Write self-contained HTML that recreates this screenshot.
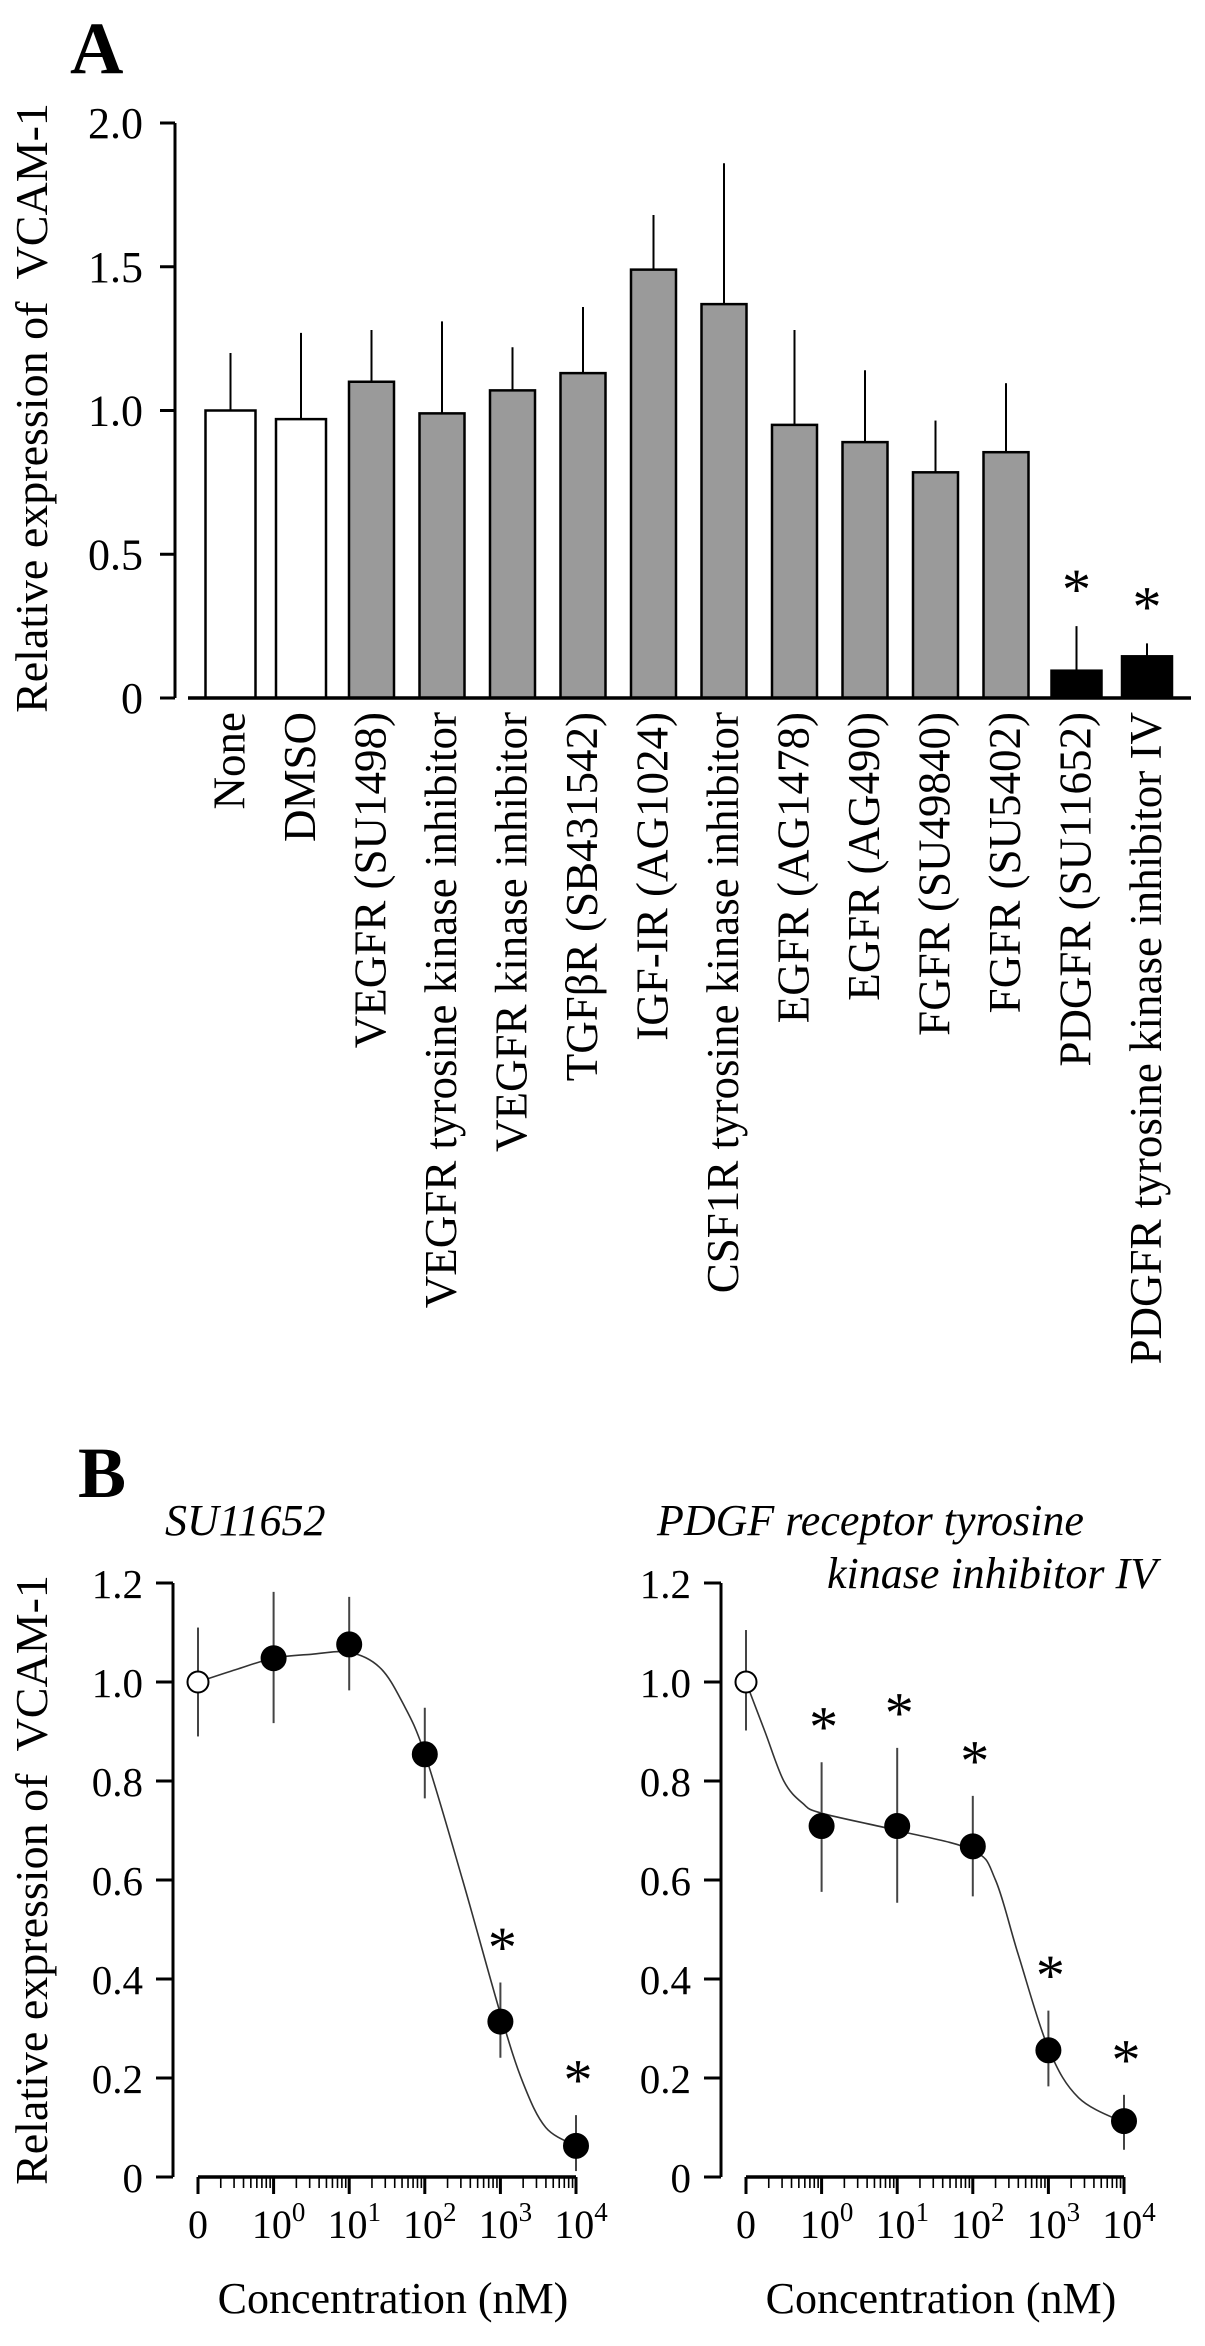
<!DOCTYPE html>
<html><head><meta charset="utf-8"><style>
html,body{margin:0;padding:0;background:#fff;}
svg{display:block;font-family:"Liberation Serif",serif;}
</style></head><body>
<svg id="fig" width="1205" height="2346" viewBox="0 0 1205 2346" xmlns="http://www.w3.org/2000/svg">
<rect width="1205" height="2346" fill="#fff"/>
<text x="70" y="73" font-size="74" font-weight="bold">A</text>
<text transform="translate(47,408) rotate(-90)" text-anchor="middle" font-size="46" xml:space="preserve">Relative expression of  VCAM-1</text>
<g id="pa"></g>
<text x="78" y="1497" font-size="72" font-weight="bold">B</text>
<text transform="translate(47,1880) rotate(-90)" text-anchor="middle" font-size="46" xml:space="preserve">Relative expression of  VCAM-1</text>
<text x="165" y="1535" font-size="44" font-style="italic">SU11652</text>
<text x="657" y="1535" font-size="44" font-style="italic">PDGF receptor tyrosine</text>
<text x="1157" y="1588" font-size="44" font-style="italic" text-anchor="end">kinase inhibitor IV</text>
<g id="pbl"></g>
<g id="pbr"></g>
</svg>
<script>
// ---- Panel A data ----
const catsA = ["None","DMSO","VEGFR (SU1498)","VEGFR tyrosine kinase inhibitor","VEGFR kinase inhibitor","TGFβR (SB431542)","IGF-IR (AG1024)","CSF1R tyrosine kinase inhibitor","EGFR (AG1478)","EGFR (AG490)","FGFR (SU49840)","FGFR (SU5402)","PDGFR (SU11652)","PDGFR tyrosine kinase inhibitor IV"];
const valsA = [1.0,0.97,1.10,0.99,1.07,1.13,1.49,1.37,0.95,0.89,0.785,0.855,0.095,0.145];
const errA = [0.20,0.30,0.18,0.32,0.15,0.23,0.19,0.49,0.33,0.25,0.18,0.24,0.155,0.045];
const groupA = ["w","w","g","g","g","g","g","g","g","g","g","g","b","b"];
const sigA = [0,0,0,0,0,0,0,0,0,0,0,0,1,1];
const ticksA = [0,0.5,1.0,1.5,2.0];
const tickLabelsA = ["0","0.5","1.0","1.5","2.0"];

// ---- Panel B data ----
const concLabels = ["0","10","10","10","10","10"];
const concExp = ["","0","1","2","3","4"];
const ticksB = [0,0.2,0.4,0.6,0.8,1.0,1.2];
const tickLabelsB = ["0","0.2","0.4","0.6","0.8","1.0","1.2"];
const leftVals = [1.0,1.048,1.076,0.854,0.314,0.063];
const leftErrHi = [1.11,1.182,1.172,0.948,0.393,0.125];
const leftErrLo = [0.89,0.917,0.983,0.765,0.241,0.012];
const leftSig = [0,0,0,0,1,1];
const leftCurveX = [0,0.5,1,1.5,2,2.4,2.7,3,3.5,4,4.3,4.6,5];
const leftCurveY = [1.0,1.025,1.048,1.056,1.06,1.03,0.96,0.855,0.6,0.33,0.19,0.1,0.063];
const rightVals = [1.0,0.709,0.709,0.668,0.256,0.113];
const rightErrHi = [1.105,0.838,0.867,0.77,0.336,0.166];
const rightErrLo = [0.902,0.576,0.554,0.567,0.183,0.055];
const rightSig = [0,1,1,1,1,1];
const rightCurveX = [0,0.25,0.5,0.75,1,2,3,3.3,3.6,4,4.4,5];
const rightCurveY = [1.0,0.9,0.8,0.755,0.735,0.70,0.66,0.6,0.45,0.26,0.16,0.11];

const NS="http://www.w3.org/2000/svg";
function mk(parent,tag,attrs){const e=document.createElementNS(NS,tag);for(const k in attrs)e.setAttribute(k,attrs[k]);parent.appendChild(e);return e;}

// ---- Panel A ----
(function(){
  const g=document.getElementById('pa');
  const axX=175, y0=698, y2=123;
  const yA=v=>y0-(v/2)*(y0-y2);
  const xA=i=>230.5+i*70.5;
  let e=mk(g,'line',{x1:axX,y1:y2,x2:axX,y2:y0,stroke:'#000','stroke-width':3});
  
  ticksA.forEach((t,i)=>{
    let l=mk(g,'line',{x1:axX-15,y1:yA(t),x2:axX,y2:yA(t),stroke:'#000','stroke-width':3});
    
    let tx=mk(g,'text',{x:143,y:yA(t)+15,'font-size':44,'text-anchor':'end'});tx.textContent=tickLabelsA[i];
    
  });
  catsA.forEach((c,i)=>{
    const fill=groupA[i]==='w'?'#fff':groupA[i]==='g'?'#9a9a9a':'#000';
    const w=groupA[i]==='g'?45:50;
    const cx=xA(i), top=yA(valsA[i]);
    let eb=mk(g,'line',{x1:cx,y1:yA(valsA[i]+errA[i]),x2:cx,y2:top,stroke:'#000','stroke-width':2});
    
    let r=mk(g,'rect',{x:cx-w/2,y:top,width:w,height:y0-top,fill:fill,stroke:'#000','stroke-width':2.5});
    
    let tx=mk(g,'text',{transform:`translate(${cx+14},712) rotate(-90)`,'font-size':45,'text-anchor':'end'});tx.textContent=c;
    
    if(sigA[i]){let s=mk(g,'text',{x:cx,y:yA(valsA[i]+errA[i]+0.16)+29,'font-size':58,'text-anchor':'middle'});s.textContent='*';
      }
  });
  let b=mk(g,'line',{x1:188,y1:y0,x2:1191,y2:y0,stroke:'#000','stroke-width':3.5});
  
})();

// ---- Panel B ----
function catmull(pts){let d=`M${pts[0][0]},${pts[0][1]}`;
  for(let i=0;i<pts.length-1;i++){const p0=pts[Math.max(i-1,0)],p1=pts[i],p2=pts[i+1],p3=pts[Math.min(i+2,pts.length-1)];
    const c1=[p1[0]+(p2[0]-p0[0])/6,p1[1]+(p2[1]-p0[1])/6],c2=[p2[0]-(p3[0]-p1[0])/6,p2[1]-(p3[1]-p1[1])/6];
    d+=` C${c1[0]},${c1[1]} ${c2[0]},${c2[1]} ${p2[0]},${p2[1]}`;}
  return d;}
function drawB(id,off,vals,hi,lo,sig,cx,cy){
  const g=document.getElementById(id);
  const axX=173+off, yb0=2177, ytop=1583;
  const yB=v=>yb0-(v/1.2)*(yb0-ytop);
  const xB=p=>198+off+p*75.6;
  let e=mk(g,'line',{x1:axX,y1:ytop,x2:axX,y2:yb0,stroke:'#000','stroke-width':3});
  
  ticksB.forEach((t,i)=>{
    let l=mk(g,'line',{x1:axX-17,y1:yB(t),x2:axX,y2:yB(t),stroke:'#000','stroke-width':3});
    
    let tx=mk(g,'text',{x:143+off,y:yB(t)+15,'font-size':41,'text-anchor':'end'});tx.textContent=tickLabelsB[i];
    
  });
  let xa=mk(g,'line',{x1:xB(0),y1:yb0,x2:xB(5),y2:yb0,stroke:'#000','stroke-width':3.5});
  
  for(let k=0;k<=5;k++){
    let l=mk(g,'line',{x1:xB(k),y1:yb0,x2:xB(k),y2:yb0+17,stroke:'#000','stroke-width':3});
    
    if(k<5)for(let m=2;m<=9;m++){let mm=mk(g,'line',{x1:xB(k+Math.log10(m)),y1:yb0,x2:xB(k+Math.log10(m)),y2:yb0+11,stroke:'#000','stroke-width':1.6});
      }
    let tx=mk(g,'text',{x:xB(k)+(k?5:0),y:2238,'font-size':40,'text-anchor':'middle'});
    
    tx.appendChild(document.createTextNode(concLabels[k]));
    if(concExp[k]){const s=mk(tx,'tspan',{dy:-17,'font-size':27});s.textContent=concExp[k];}
  }
  let xt=mk(g,'text',{x:393+off,y:2313,'font-size':44,'text-anchor':'middle'});xt.textContent='Concentration (nM)';
  
  const pts=cx.map((x,i)=>[xB(x),yB(cy[i])]);
  let c=mk(g,'path',{d:catmull(pts),fill:'none',stroke:'#333','stroke-width':1.6});
  
  vals.forEach((v,i)=>{
    let eb=mk(g,'line',{x1:xB(i),y1:yB(hi[i]),x2:xB(i),y2:yB(lo[i]),stroke:'#444','stroke-width':2});
    
    let p=mk(g,'circle',{cx:xB(i),cy:yB(v),r:i===0?10.5:12,fill:i===0?'#fff':'#000',stroke:'#000','stroke-width':2});
    
    if(sig[i]){let s=mk(g,'text',{x:xB(i)+2,y:yB(hi[i]+0.09)+29,'font-size':58,'text-anchor':'middle'});s.textContent='*';
      }
  });
}
drawB('pbl',0,leftVals,leftErrHi,leftErrLo,leftSig,leftCurveX,leftCurveY);
drawB('pbr',548,rightVals,rightErrHi,rightErrLo,rightSig,rightCurveX,rightCurveY);
</script>
</body></html>
